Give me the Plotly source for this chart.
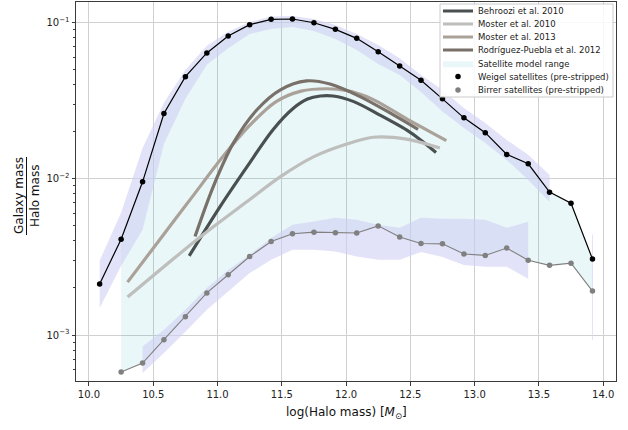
import plotly.graph_objects as go

# ---- observed satellite stellar-to-halo mass ratios ----
weigel_x = [10.083, 10.25, 10.417, 10.583, 10.75, 10.917, 11.083, 11.25, 11.417, 11.583,
            11.75, 11.917, 12.083, 12.25, 12.417, 12.583, 12.75, 12.917, 13.083, 13.25,
            13.417, 13.583, 13.75, 13.917]
weigel_y = [0.00212, 0.0041, 0.00955, 0.0261, 0.0449, 0.0637, 0.0818, 0.0966, 0.1045, 0.105,
            0.0994, 0.0902, 0.079, 0.0649, 0.0526, 0.0426, 0.0324, 0.0245, 0.0197, 0.0143,
            0.01245, 0.0082, 0.00697, 0.00306]
weigel_hi = [0.00299, 0.00605, 0.01574, 0.0306, 0.0495, 0.0708, 0.0871, 0.1004, 0.1089, 0.1096,
             0.105, 0.0961, 0.0842, 0.0716, 0.0589, 0.0461, 0.0369, 0.0283, 0.0227, 0.0177,
             0.0142, 0.01057, None, None]
weigel_lo = [0.00149, 0.00277, 0.00471, 0.01667, 0.0324, 0.0536, 0.0682, 0.0842, 0.0906, 0.0933,
             0.088, 0.0782, 0.0665, 0.0542, 0.0461, 0.0359, 0.0269, 0.0211, 0.01694, 0.01318,
             0.00982, 0.00711, None, None]

birrer_x = [10.25, 10.417, 10.583, 10.75, 10.917, 11.083, 11.25, 11.417, 11.583, 11.75,
            11.917, 12.083, 12.25, 12.417, 12.583, 12.75, 12.917, 13.083, 13.25, 13.417,
            13.583, 13.75, 13.917]
birrer_y = [0.00058, 0.000662, 0.000933, 0.00131, 0.00186, 0.00243, 0.00318, 0.00396, 0.00444,
            0.00455, 0.00451, 0.00449, 0.00499, 0.00423, 0.00385, 0.00383, 0.0033, 0.00323,
            0.0036, 0.00301, 0.00279, 0.00288, 0.00191]
birrer_hi = [None, 0.000845, 0.00108, 0.00145, 0.0020, 0.00261, 0.00326, 0.00417, 0.00507,
             0.00532, 0.00562, 0.00546, 0.00507, 0.00485, 0.00562, 0.00554, 0.00554, 0.00546,
             0.00485, 0.0053, None, None, 0.00438]
birrer_lo = [None, 0.000571, 0.000767, 0.00105, 0.00145, 0.0019, 0.00249, 0.00303, 0.00351,
             0.00351, 0.00342, 0.00318, 0.00303, 0.00303, 0.0034, 0.00316, 0.00281, 0.00273,
             0.00273, 0.00229, None, None, 0.00093]

# ---- abundance-matching relations ----
behroozi_x = [10.78, 11.02, 11.23, 11.43, 11.59, 11.70, 11.80, 11.90, 12.06, 12.26, 12.47, 12.58, 12.70]
behroozi_y = [0.00321, 0.00663, 0.01194, 0.0205, 0.0282, 0.0323, 0.0338, 0.0338, 0.0311, 0.0256,
              0.0205, 0.0177, 0.0147]

moster10_x = [10.30, 10.71, 10.97, 11.23, 11.49, 11.75, 12.00, 12.21, 12.47, 12.73]
moster10_y = [0.00175, 0.00334, 0.00494, 0.00714, 0.01031, 0.01384, 0.0166, 0.0184, 0.0179, 0.0157]

moster13_x = [10.30, 10.55, 10.80, 11.05, 11.25, 11.45, 11.65, 11.85, 12.00, 12.20, 12.50, 12.78]
moster13_y = [0.00218, 0.00407, 0.00759, 0.0141, 0.0219, 0.0309, 0.0363, 0.0376, 0.0367, 0.0324,
              0.0234, 0.0175]

rodriguez_x = [10.825, 10.967, 11.123, 11.305, 11.486, 11.693, 11.875, 12.109, 12.368, 12.56]
rodriguez_y = [0.00427, 0.00891, 0.01687, 0.0275, 0.0369, 0.0422, 0.0403, 0.0335, 0.0256, 0.0207]

FONT = "DejaVu Sans"
BAND = "rgba(207,207,243,0.6)"
RANGE = "rgba(0,160,175,0.085)"

# plot area in pixels (for placing the key and the stacked y label)
PL, PR, PT, PB = 76, 616, 2, 381


def px_x(p):
    return (p - PL) / (PR - PL)


def px_y(p):
    return (PB - p) / (PB - PT)


fig = go.Figure()


def runs(xs, lo, hi):
    """Split a band into contiguous pieces where both limits are defined."""
    piece = []
    for x, a, b in zip(xs, lo, hi):
        if a is None or b is None:
            if piece:
                yield piece
            piece = []
        else:
            piece.append((x, a, b))
    if piece:
        yield piece


# satellite model range between the two observed relations
range_x = [x for x in weigel_x if x in birrer_x]
range_hi = [weigel_y[weigel_x.index(x)] for x in range_x]
range_lo = [birrer_y[birrer_x.index(x)] for x in range_x]
fig.add_trace(go.Scatter(
    x=range_x + range_x[::-1], y=range_hi + range_lo[::-1],
    fill="toself", fillcolor=RANGE, mode="lines", line=dict(width=0),
    name="Satellite model range", legend="legend5", hoverinfo="skip"))

# uncertainty bands of the observed relations
for xs, lo, hi in [(weigel_x, weigel_lo, weigel_hi), (birrer_x, birrer_lo, birrer_hi)]:
    for piece in runs(xs, lo, hi):
        bx = [p[0] for p in piece]
        blo = [p[1] for p in piece]
        bhi = [p[2] for p in piece]
        if len(piece) > 1:
            fig.add_trace(go.Scatter(
                x=bx + bx[::-1], y=bhi + blo[::-1], fill="toself", fillcolor=BAND,
                mode="lines", line=dict(width=0), showlegend=False, hoverinfo="skip"))
        else:
            fig.add_trace(go.Scatter(
                x=bx * 2, y=[blo[0], bhi[0]], mode="lines",
                line=dict(color=BAND, width=1), showlegend=False, hoverinfo="skip"))

# abundance-matching curves
models = [
    ("Behroozi et al. 2010", behroozi_x, behroozi_y, "#4a5050", "legend"),
    ("Moster et al. 2010", moster10_x, moster10_y, "#bebebc", "legend2"),
    ("Moster et al. 2013", moster13_x, moster13_y, "#aaa199", "legend3"),
    ("Rodríguez-Puebla et al. 2012", rodriguez_x, rodriguez_y, "#797169", "legend4"),
]
for name, xs, ys, col, leg in models:
    fig.add_trace(go.Scatter(
        x=xs, y=ys, mode="lines", name=name, legend=leg,
        line=dict(color=col, width=3.2, shape="spline", smoothing=0.9)))

# observed relations: connecting lines and points
for name, xs, ys, col, lw, leg in [
        ("Weigel satellites (pre-stripped)", weigel_x, weigel_y, "#000000", 1.2, "legend6"),
        ("Birrer satellites (pre-stripped)", birrer_x, birrer_y, "#808080", 1.1, "legend7")]:
    fig.add_trace(go.Scatter(x=xs, y=ys, mode="lines", line=dict(color=col, width=lw),
                             showlegend=False, hoverinfo="skip"))
    fig.add_trace(go.Scatter(x=xs, y=ys, mode="markers", name=name, legend=leg,
                             marker=dict(color=col, size=5.5)))

grid = "rgb(208,208,208)"
spine = "#3a3a3a"

minor_vals = [m * 10.0 ** e for e in (-4, -3, -2, -1) for m in range(2, 10)]

# one key row per entry, stacked at the spacing of the framed key box
key_rows = [11, 24, 37, 50, 63.3, 76.6, 90]
key_names = ["legend", "legend2", "legend3", "legend4", "legend5", "legend6", "legend7"]
key_layout = {}
for leg, row in zip(key_names, key_rows):
    key_layout[leg] = dict(
        x=px_x(438), y=px_y(row), xanchor="left", yanchor="middle",
        bgcolor="rgba(0,0,0,0)", borderwidth=0, itemwidth=30,
        font=dict(family=FONT, size=8.5, color="#222"))

fig.update_layout(
    width=628, height=430,
    margin=dict(l=PL, r=628 - PR, t=PT, b=430 - PB, autoexpand=False),
    paper_bgcolor="white", plot_bgcolor="white",
    font=dict(family=FONT, size=10, color="#222"),
    showlegend=True,
    xaxis=dict(
        range=[9.899, 14.10], tick0=10, dtick=0.5, tickformat=".1f",
        showgrid=True, gridcolor=grid, gridwidth=1,
        showline=True, linecolor=spine, linewidth=1, mirror=True,
        ticks="outside", ticklen=3.5, tickcolor=spine, zeroline=False,
        automargin=False,
    ),
    yaxis=dict(
        type="log", range=[-3.294, -0.870],
        tickvals=[1e-3, 1e-2, 1e-1],
        ticktext=["10<sup>−3</sup>", "10<sup>−2</sup>", "10<sup>−1</sup>"],
        showgrid=True, gridcolor=grid, gridwidth=1,
        showline=True, linecolor=spine, linewidth=1, mirror=True,
        ticks="outside", ticklen=3.5, tickcolor=spine, zeroline=False,
        automargin=False,
        minor=dict(tickvals=minor_vals, ticks="outside", ticklen=2,
                   tickcolor=spine, showgrid=False),
    ),
    **key_layout,
)

# frame behind the key
fig.add_shape(type="rect", xref="paper", yref="paper", layer="above",
              x0=px_x(440), x1=px_x(613), y0=px_y(97), y1=px_y(4),
              fillcolor="rgba(255,255,255,0.85)", line=dict(color="#cccccc", width=1))

# axis labels
fig.add_annotation(text="log(Halo mass) [<i>M</i><sub>⊙</sub>]", xref="paper", yref="paper",
                   x=0.5, y=px_y(413), xanchor="center", yanchor="middle", showarrow=False,
                   font=dict(family=FONT, size=12, color="#111"))
fig.add_annotation(text="Galaxy mass", xref="paper", yref="paper", textangle=-90,
                   x=px_x(19), y=px_y(196), xanchor="center", yanchor="middle",
                   showarrow=False, font=dict(family=FONT, size=12, color="#111"))
fig.add_annotation(text="Halo mass", xref="paper", yref="paper", textangle=-90,
                   x=px_x(35), y=px_y(196), xanchor="center", yanchor="middle",
                   showarrow=False, font=dict(family=FONT, size=12, color="#111"))
fig.add_shape(type="line", xref="paper", yref="paper",
              x0=px_x(26.5), x1=px_x(26.5), y0=px_y(157), y1=px_y(235),
              line=dict(color="#111", width=1))

fig.write_html("out.html")
